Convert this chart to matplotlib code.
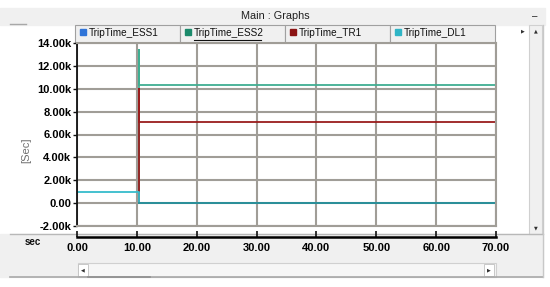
import matplotlib
matplotlib.use("Agg")
import matplotlib.pyplot as plt
from matplotlib.patches import Rectangle

# series (time in sec, value in sec)
series_names = ["TripTime_ESS1", "TripTime_ESS2", "TripTime_TR1", "TripTime_DL1"]
legend_colors = ["#2f74d8", "#1b8a6b", "#8c1414", "#2fb5c6"]

ess1_t = [10.3, 70.0]
ess1_v = [0.0, 0.0]
ess2_t = [10.3, 10.3, 10.3, 70.0]
ess2_v = [0.0, 13400.0, 10350.0, 10350.0]
tr1_t = [10.3, 10.3, 10.3, 70.0]
tr1_v = [0.0, 10000.0, 7100.0, 7100.0]
dl1_t = [0.0, 10.3, 10.3, 70.0]
dl1_v = [1000.0, 1000.0, 0.0, 0.0]

y_ticks = [-2000, 0, 2000, 4000, 6000, 8000, 10000, 12000, 14000]
x_ticks = [0, 10, 20, 30, 40, 50, 60, 70]

W, H = 550, 287
fig = plt.figure(figsize=(W / 100, H / 100), dpi=100, facecolor="white")
plt.rcParams["font.family"] = ["Liberation Sans", "DejaVu Sans"]


def box(x0, y0, x1, y1):
    # pixel box -> figure fraction [left, bottom, width, height]
    return [x0 / W, 1 - y1 / H, (x1 - x0) / W, (y1 - y0) / H]


# window chrome drawn in pixel coords
bg = fig.add_axes([0, 0, 1, 1], zorder=0)
bg.set_xlim(0, W)
bg.set_ylim(H, 0)
bg.axis("off")
gray = "#f0f0f0"
bg.add_patch(Rectangle((0, 8), 545, 17, color=gray))
bg.plot([10, 26], [23.5, 23.5], color="#a8a8a8", lw=1)
bg.text(275, 16, "Main : Graphs", ha="center", va="center", fontsize=7.8, color="#202020")
bg.text(535, 16, "\u2013", ha="center", va="center", fontsize=7, color="#202020")
bg.add_patch(Rectangle((0, 234), 543, 43, color=gray))
bg.plot([10, 543], [234, 234], color="#b8b8b8", lw=1)
bg.plot([10, 543], [277, 277], color="#a8a8a8", lw=1.2)
bg.plot([543, 543], [25, 277], color="#c8c8c8", lw=1)
# vertical scroll bar
bg.add_patch(Rectangle((529, 25), 13, 209, facecolor=gray, edgecolor="#d0d0d0", lw=0.8))
bg.text(535.5, 31, "\u25b2", ha="center", va="center", fontsize=3.5, color="#303030",
        family="DejaVu Sans")
bg.text(535.5, 228, "\u25bc", ha="center", va="center", fontsize=3.5, color="#303030",
        family="DejaVu Sans")
bg.text(523, 31, "\u25b6", ha="center", va="center", fontsize=3.5, color="#303030",
        family="DejaVu Sans")
# horizontal scroll bar
bg.add_patch(Rectangle((78, 263), 418, 14, facecolor="#f6f6f6", edgecolor="#d0d0d0", lw=0.8))
bg.add_patch(Rectangle((78, 264), 10, 12, facecolor="white", edgecolor="#c0c0c0", lw=0.6))
bg.add_patch(Rectangle((484, 264), 10, 12, facecolor="white", edgecolor="#c0c0c0", lw=0.6))
bg.text(83, 270, "\u25c0", ha="center", va="center", fontsize=3.5, color="#303030",
        family="DejaVu Sans")
bg.text(489, 270, "\u25b6", ha="center", va="center", fontsize=3.5, color="#303030",
        family="DejaVu Sans")
bg.plot([88, 150], [277, 277], color="#909090", lw=1.2)
# legend tabs
tab_x = [75, 180, 285, 390, 495]
for i, name in enumerate(series_names):
    x0, x1 = tab_x[i], tab_x[i + 1]
    bg.add_patch(Rectangle((x0, 25), x1 - x0, 18, facecolor=gray, edgecolor="#a0a0a0", lw=0.8))
    bg.add_patch(Rectangle((x0 + 5, 29), 6, 6, color=legend_colors[i]))
    bg.text(x0 + 14, 33, name, ha="left", va="center", fontsize=7.2, color="#101010")
bg.plot([180 + 14, 180 + 81], [40, 40], color="#101010", lw=0.8)
bg.text(26, 150, "[Sec]", rotation=90, ha="center", va="center", fontsize=8, color="#707070")
bg.text(33, 242, "sec", ha="center", va="center", fontsize=7, fontweight="bold", color="#101010")

# main plot
ax = fig.add_axes(box(77, 43, 496, 226), zorder=2)
ax.set_facecolor("white")
ax.plot(ess1_t, ess1_v, color=legend_colors[0], lw=1.3)
ax.plot(ess2_t, ess2_v, color="#3fae92", lw=1.3)
ax.plot(tr1_t, tr1_v, color="#9a1c1c", lw=1.3)
ax.plot(dl1_t, dl1_v, color="#36bccb", lw=1.3)
ax.plot(dl1_t[2:], dl1_v[2:], color="#2a8c94", lw=1.3)
ax.set_xlim(0, 70)
ax.set_ylim(-2000, 14000)
ax.set_xticks(x_ticks)
ax.set_yticks(y_ticks)
ax.grid(True, color="#a09d97", lw=1.5)
ax.set_axisbelow(True)
ax.set_xticklabels([])
ax.tick_params(axis="x", length=0)
ax.set_yticklabels([("%.2fk" % (v / 1000)) if v != 0 else "0.00" for v in y_ticks],
                   fontsize=8, fontweight="bold")
ax.tick_params(axis="y", length=3, width=1, color="#101010", pad=1)
for s in ["top", "right", "bottom"]:
    ax.spines[s].set_color("#a09d97")
    ax.spines[s].set_linewidth(1.5)
ax.spines["left"].set_color("#101010")
ax.spines["left"].set_linewidth(1.3)

# x axis strip
ax2 = fig.add_axes(box(77, 237, 496, 237.001), zorder=2)
ax2.set_xlim(0, 70)
ax2.set_xticks(x_ticks)
ax2.set_xticklabels(["%.2f" % v for v in x_ticks], fontsize=8, fontweight="bold")
ax2.set_yticks([])
ax2.tick_params(axis="x", direction="in", length=4, width=1.2, pad=4, color="#101010")
for s in ["top", "left", "right"]:
    ax2.spines[s].set_visible(False)
ax2.spines["bottom"].set_linewidth(1.8)
ax2.patch.set_alpha(0)

fig.savefig("out.png", dpi=100, facecolor="white")
